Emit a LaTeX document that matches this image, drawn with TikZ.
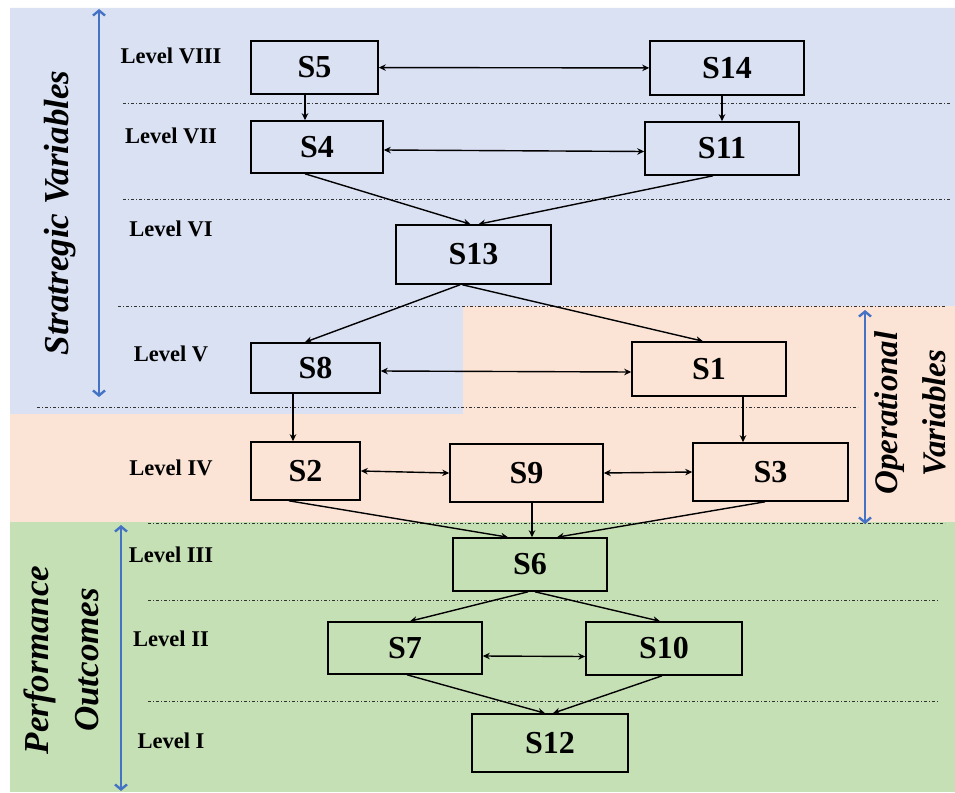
\documentclass[tikz,border=0pt]{standalone}
\usepackage{fontspec}
\setmainfont{Liberation Serif}
\usetikzlibrary{arrows.meta}

\definecolor{stratblue}{RGB}{218,225,243}
\definecolor{operpeach}{RGB}{251,228,214}
\definecolor{perfgreen}{RGB}{198,224,181}
\definecolor{axisblue}{RGB}{68,114,196}

\begin{document}
\begin{tikzpicture}[x=1pt,y=-1pt,>={Stealth[length=7pt,width=6.5pt]},
	  sbox/.style={draw,line width=1.6pt,inner sep=0pt,minimum width=154pt,minimum height=54pt,font=\fontsize{32}{34}\selectfont\bfseries},
	  lvl/.style={font=\fontsize{22.5}{25}\selectfont\bfseries},
	  sep/.style={line width=1pt,black!80,dash pattern=on 3pt off 2pt on 1pt off 2pt},
	  link/.style={->,line width=1.4pt},
	  both/.style={<->,line width=1.4pt},
	  span/.style={{Straight Barb[length=5pt,width=12pt]}-{Straight Barb[length=5pt,width=12pt]},axisblue,line width=2.4pt},
	  group/.style={font=\fontsize{35}{50}\selectfont\bfseries\itshape,rotate=90,align=center}]
	  \useasboundingbox (0,0) rectangle (955,792);
	  % background bands
	  \fill[stratblue] (10,8) -- (955,8) -- (955,306) -- (463,306) -- (463,414) -- (10,414) -- cycle;
	  \fill[operpeach] (463,306) -- (955,306) -- (955,522) -- (10,522) -- (10,414) -- (463,414) -- cycle;
	  \fill[perfgreen] (10,522) rectangle (955,792);
	  % level separators
	  \draw[sep] (123,103) -- (950,103);
	  \draw[sep] (123,199) -- (950,199);
	  \draw[sep] (118,306) -- (945,306);
	  \draw[sep] (37,407) -- (858,407);
	  \draw[sep] (148,523) -- (945,523);
	  \draw[sep] (148,600) -- (938,600);
	  \draw[sep] (148,701) -- (938,701);
	  % levels
	  \node[lvl] (lv8) at (171,56) {Level VIII};
	  \node[lvl] (lv7) at (171,136) {Level VII};
	  \node[lvl] (lv6) at (171,229) {Level VI};
	  \node[lvl] (lv5) at (171,354) {Level V};
	  \node[lvl] (lv4) at (171,468) {Level IV};
	  \node[lvl] (lv3) at (171,555) {Level III};
	  \node[lvl] (lv2) at (171,639) {Level II};
	  \node[lvl] (lv1) at (171,741) {Level I};
	  % variables
	  \node[sbox,minimum width=127pt,minimum height=53pt] (s5) at (314.5,67.5) {S5};
	  \node[sbox] (s14) at (727,68) {S14};
	  \node[sbox,minimum width=132pt,minimum height=52pt] (s4) at (317,147) {S4};
	  \node[sbox,minimum height=53pt] (s11) at (722,148.5) {S11};
	  \node[sbox,minimum width=155pt,minimum height=59pt] (s13) at (473.5,254.5) {S13};
	  \node[sbox,minimum width=129pt,minimum height=50pt] (s8) at (315.5,368) {S8};
	  \node[sbox] (s1) at (709,369) {S1};
	  \node[sbox,minimum width=109pt,minimum height=58pt] (s2) at (305.5,471) {S2};
	  \node[sbox,minimum width=153pt,minimum height=58pt] (s9) at (526.5,473) {S9};
	  \node[sbox,minimum width=155pt,minimum height=58pt] (s3) at (770.5,472) {S3};
	  \node[sbox,minimum height=53pt] (s6) at (530,564.5) {S6};
	  \node[sbox,minimum height=52pt] (s7) at (405,648) {S7};
	  \node[sbox,minimum width=156pt,minimum height=53pt] (s10) at (664,648.5) {S10};
	  \node[sbox,minimum width=156pt,minimum height=58pt] (s12) at (550,743) {S12};
	  % links
	  \draw[both] (s5) -- (s14);
	  \draw[link] ([xshift=-9.5pt]s5.south) -- ([xshift=-12pt]s4.north);
	  \draw[link] ([xshift=-5pt]s14.south) -- (s11.north);
	  \draw[both] ([yshift=-3pt]s4.east) -- ([yshift=-3pt]s11.west);
	  \draw[link] ([xshift=-12pt]s4.south) -- ([xshift=-3pt]s13.north);
	  \draw[link] ([xshift=-9pt]s11.south) -- ([xshift=5pt]s13.north);
	  \draw[link] ([xshift=-13.5pt]s13.south) -- ([xshift=-10.5pt]s8.north);
	  \draw[link] ([xshift=-11pt]s13.south) -- ([xshift=-6pt]s1.north);
	  \draw[both] ([yshift=-3pt]s8.east) -- ([yshift=-3pt]s1.west);
	  \draw[link] ([xshift=-22.5pt]s8.south) -- ([xshift=-12.5pt]s2.north);
	  \draw[link] ([xshift=34pt]s1.south) -- ([xshift=-27.5pt]s3.north);
	  \draw[both] (s2.east) -- (s9.west);
	  \draw[both] (s9.east) -- (s3.west);
	  \draw[link] ([xshift=-16.5pt]s2.south) -- ([xshift=-22pt]s6.north);
	  \draw[link] ([xshift=5.5pt]s9.south) -- ([xshift=2pt]s6.north);
	  \draw[link] ([xshift=-5.5pt]s3.south) -- ([xshift=27pt]s6.north);
	  \draw[link] ([xshift=-2pt]s6.south) -- ([xshift=5pt]s7.north);
	  \draw[link] ([xshift=5pt]s6.south) -- ([xshift=-4pt]s10.north);
	  \draw[both] ([yshift=-8pt]s7.east) -- ([yshift=-8pt]s10.west);
	  \draw[link] ([xshift=2pt]s7.south) -- ([xshift=-5pt]s12.north);
	  \draw[link] ([xshift=-2pt]s10.south) -- ([xshift=3pt]s12.north);
	  % groups
	  \coordinate (strat top) at (99,9);
	  \coordinate (strat bot) at (99,397);
	  \coordinate (oper top) at (865,310);
	  \coordinate (oper bot) at (865,524);
	  \coordinate (perf top) at (121,525);
	  \coordinate (perf bot) at (121,791);
	  \draw[span] (strat top) -- (strat bot);
	  \draw[span] (oper top) -- (oper bot);
	  \draw[span] (perf top) -- (perf bot);
	  \node[group] (strat) at (60,213) {Stratregic Variables};
	  \node[group,font=\fontsize{33}{48}\selectfont\bfseries\itshape] (oper) at (910,413) {Operational\\Variables};
	  \node[group] (perf) at (61,660) {Performance\\Outcomes};
	\end{tikzpicture}
\end{document}
